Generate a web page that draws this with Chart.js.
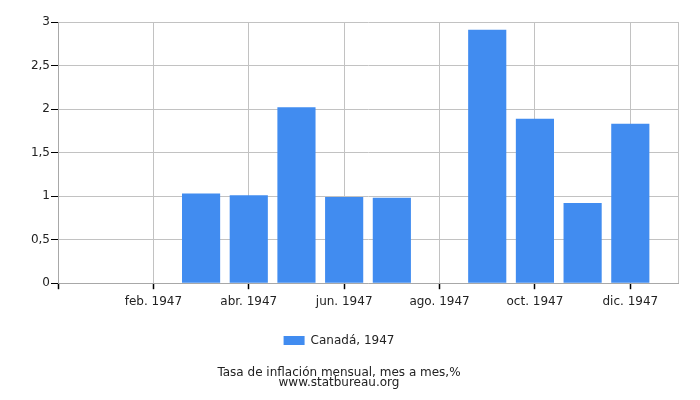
<!DOCTYPE html>
<html>
<head>
<meta charset="utf-8">
<script src="https://cdn.jsdelivr.net/npm/chart.js@4/dist/chart.umd.min.js"></script>
<style>
  html, body { margin: 0; padding: 0; background: #fff; }
  #wrap { width: 700px; height: 400px; }
</style>
</head>
<body>
<div id="wrap"><canvas id="chart"></canvas></div>
<script>
// month numbers of 1947 and their labels
var months = [1, 2, 3, 4, 5, 6, 7, 8, 9, 10, 11, 12];
var month_labels = ["ene. 1947", "feb. 1947", "mar. 1947", "abr. 1947", "may. 1947", "jun. 1947",
                    "jul. 1947", "ago. 1947", "sep. 1947", "oct. 1947", "nov. 1947", "dic. 1947"];
// Canadá, inflación mes a mes (%)
var values_canada = [0, 0, 1.03, 1.01, 2.02, 0.99, 0.98, 0, 2.91, 1.89, 0.92, 1.83];
var y_ticks = [0, 0.5, 1, 1.5, 2, 2.5, 3];

var gridGray = '#c2c2c2';
var font = { family: 'DejaVu Sans', size: 12 };
Chart.defaults.font.family = 'DejaVu Sans';
Chart.defaults.color = '#222';

var points = months.map(function(m, i) { return { x: m, y: values_canada[i] }; });

var ctx = document.getElementById('chart').getContext('2d');
var myChart = new Chart(ctx, {
    type: 'bar',
    data: {
        datasets: [{
            label: 'Canadá, 1947',
            data: points,
            backgroundColor: '#418cf0',
            borderWidth: 0,
            barPercentage: 0.8,
            categoryPercentage: 1.0,
        }],
    },
    options: {
        responsive: true,
        maintainAspectRatio: false,
        animation: false,
        layout: {
            padding: { top: 22, right: 22, left: 0, bottom: 6 }
        },
        scales: {
            x: {
                type: 'linear',
                min: 0,
                max: 13,
                offset: false,
                afterBuildTicks: function(scale) {
                    var t = [];
                    for (var v = 0; v <= 13; v++) t.push({ value: v });
                    scale.ticks = t;
                },
                afterFit: function(scale) { scale.height += 11; },
                ticks: {
                    font: font,
                    color: '#222',
                    padding: 5,
                    maxRotation: 0,
                    autoSkip: false,
                    callback: function(value) {
                        if (value > 0 && value % 2 === 0) return month_labels[value - 1];
                        return '';
                    },
                },
                grid: {
                    offset: false,
                    color: function(c) {
                        var v = c.tick ? c.tick.value : 0;
                        return (v % 2 === 0 || v === 13) ? gridGray : 'rgba(0,0,0,0)';
                    },
                    tickColor: function(c) {
                        var v = c.tick ? c.tick.value : 0;
                        return (v % 2 === 0) ? '#000' : 'rgba(0,0,0,0)';
                    },
                    tickLength: 6,
                    tickWidth: 1.5,
                },
                border: { color: '#a8a8a8' },
            },
            y: {
                min: 0,
                max: 3,
                afterBuildTicks: function(scale) {
                    scale.ticks = y_ticks.map(function(v) { return { value: v }; });
                },
                afterFit: function(scale) { scale.width = 58; },
                ticks: {
                    font: font,
                    color: '#222',
                    padding: 1,
                    callback: function(value) {
                        return String(value).replace('.', ',');
                    },
                },
                grid: {
                    color: gridGray,
                    tickColor: '#000',
                    tickLength: 7,
                },
                border: { color: '#a8a8a8' },
            },
        },
        plugins: {
            legend: {
                position: 'bottom',
                labels: {
                    font: font,
                    color: '#222',
                    boxWidth: 21,
                    boxHeight: 9,
                    padding: 10,
                },
            },
            title: {
                display: true,
                position: 'bottom',
                text: ['Tasa de inflación mensual, mes a mes,%', 'www.statbureau.org'],
                font: { family: 'DejaVu Sans', size: 12, weight: 'normal', lineHeight: 0.85 },
                color: '#222',
                padding: { top: 11, bottom: 6 },
            },
            tooltip: { enabled: false },
        },
    },
});
</script>
</body>
</html>
